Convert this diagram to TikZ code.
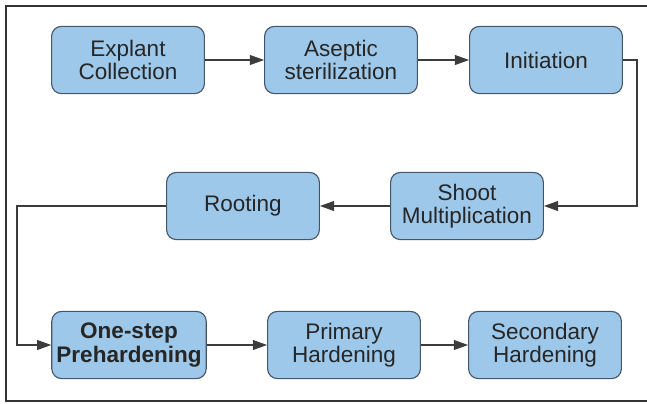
\documentclass[tikz,border=0pt]{standalone}
\usepackage{fontspec}
\setmainfont{Liberation Sans}
\usepackage{tikz}
\usetikzlibrary{arrows.meta, positioning}
\definecolor{stepfill}{HTML}{9DC8EA}
\definecolor{stepline}{HTML}{46566A}
\definecolor{flowline}{HTML}{3C3C3C}

\begin{document}
\begin{tikzpicture}[
    x=0.025cm, y=-0.025cm,
    stage/.style = {draw=stepline, line width=0.8pt, fill=stepfill,
                    rounded corners=7pt, minimum width=3.82cm,
                    minimum height=1.68cm, align=center, text=black!85,
                    font=\fontsize{16}{16.5}\selectfont},
    arr/.style   = {-{Triangle[length=10pt, width=7pt]}, draw=flowline,
                    line width=0.8pt},
  ]

  \useasboundingbox (0,0) rectangle (647,403);
  %% Frame (right side runs off the page)
  \draw[line width=1pt, draw=black!80] (6,6) rectangle (680,401);

  %% Top row
  \node[stage] (explant) at (128,60)  {Explant\\Collection};
  \node[stage] (aseptic) at (341,60)  {Aseptic\\sterilization};
  \node[stage] (init)    at (546,60)  {Initiation};

  %% Middle row
  \node[stage] (shoot)   at (467,206) {Shoot\\Multiplication};
  \node[stage] (rooting) at (243,206) {Rooting};

  %% Bottom row
  \node[stage, font=\fontsize{16}{16.5}\selectfont\bfseries]
                 (prehard) at (129,345) {One-step\\Prehardening};
  \node[stage] (primary) at (344,345) {Primary\\Hardening};
  \node[stage] (second)  at (545,345) {Secondary\\Hardening};

  %% Flow
  \draw[arr] (explant) -- (aseptic);
  \draw[arr] (aseptic) -- (init);
  \draw[arr] (init.east) -| (637,150) |- (shoot.east);
  \draw[arr] (shoot)   -- (rooting);
  \draw[arr] (rooting.west) -| (17,280) |- (prehard.west);
  \draw[arr] (prehard) -- (primary);
  \draw[arr] (primary) -- (second);

\end{tikzpicture}
\end{document}
